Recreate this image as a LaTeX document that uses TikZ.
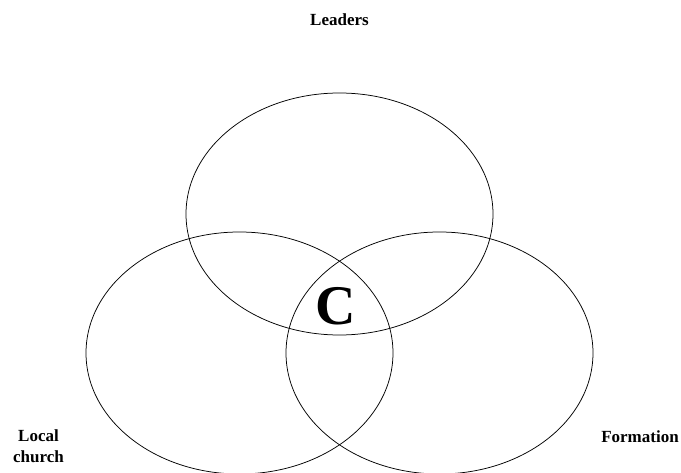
\documentclass[tikz,border=0pt]{standalone}
\usepackage{fontspec}
\setmainfont{Liberation Serif}
\usepackage{tikz}

\begin{document}
\begin{tikzpicture}[x=1pt, y=-1pt,
    ring/.style={draw, line width=0.75pt},
    lbl/.style={font=\fontsize{17}{21.5}\selectfont\bfseries, align=center, inner sep=0pt}]
  \useasboundingbox (0,0) rectangle (681,473);
  % the three circles of the diagram
  \draw[ring] (339.5,214) ellipse [x radius=153.5pt, y radius=121pt];
  \draw[ring] (239.5,353) ellipse [x radius=153.5pt, y radius=121pt];
  \draw[ring] (439.5,353) ellipse [x radius=153.5pt, y radius=121pt];
  % labels
  \node[lbl, anchor=base] (leaders) at (339.5,26) {Leaders};
  \node[lbl, anchor=base] (church) at (38.5,463) {Local\\church};
  \node[lbl, anchor=base] (formation) at (640,442.5) {Formation};
  \node[font=\fontsize{56}{60}\selectfont\bfseries, inner sep=0pt, anchor=base] (centre) at (336,325) {C};
\end{tikzpicture}
\end{document}
